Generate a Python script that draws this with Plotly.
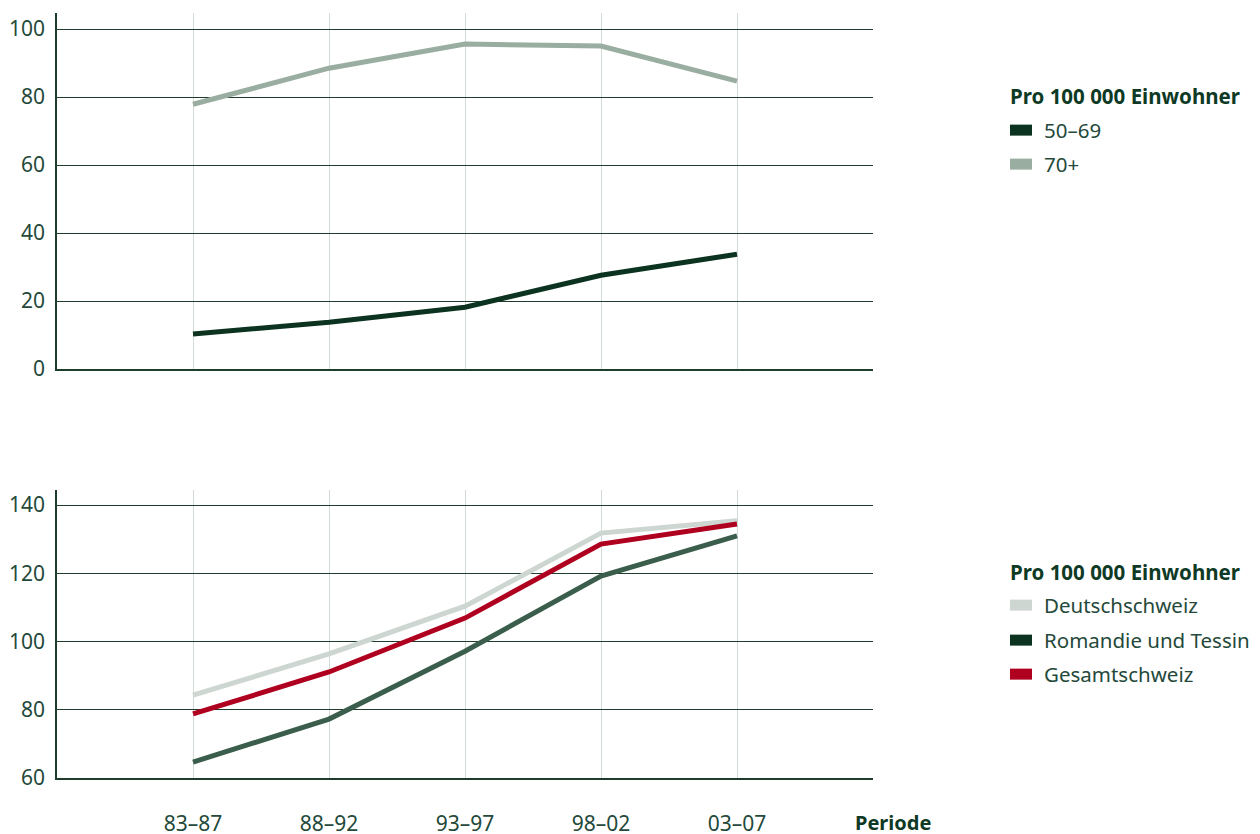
import plotly.graph_objects as go

periods = ["83–87", "88–92", "93–97", "98–02", "03–07"]

top_names = ["50–69", "70+"]
age_50_69 = [10.3, 13.8, 18.2, 27.6, 33.8]
age_70 = [77.9, 88.5, 95.6, 95.0, 84.7]

bottom_names = ["Deutschschweiz", "Romandie und Tessin", "Gesamtschweiz"]
deutschschweiz = [84.3, 96.4, 110.4, 131.8, 135.4]
romandie = [64.7, 77.3, 97.2, 119.2, 131.0]
gesamtschweiz = [78.8, 91.1, 106.9, 128.6, 134.5]

legend_title = "Pro 100 000 Einwohner"
x_title = "Periode"

# page body has an 8px margin; the photographed page is slightly taller than the picture
OFF = 8
YS = 0.9845
W = 1260 - 2 * OFF
H = int(round(834 / YS)) - OFF
FONT = "Noto Sans"
TXT = "#24493a"
DARK = "#0b3320"
GRID = "#1f3d2d"
VGRID = "#d3dbd7"

def px(x):
    return (x - OFF) / W

def py(y):
    return 1 - (y / YS - OFF) / H

fig = go.Figure()

# top chart
fig.add_trace(go.Scatter(x=periods, y=age_50_69, mode="lines", line=dict(color=DARK, width=5),
                         xaxis="x", yaxis="y", showlegend=False, name=top_names[0]))
fig.add_trace(go.Scatter(x=periods, y=age_70, mode="lines", line=dict(color="#9aada1", width=5),
                         xaxis="x", yaxis="y", showlegend=False, name=top_names[1]))
# bottom chart
fig.add_trace(go.Scatter(x=periods, y=deutschschweiz, mode="lines", line=dict(color="#cdd6d0", width=5),
                         xaxis="x2", yaxis="y2", showlegend=False, name=bottom_names[0]))
fig.add_trace(go.Scatter(x=periods, y=romandie, mode="lines", line=dict(color="#3a5e4b", width=5),
                         xaxis="x2", yaxis="y2", showlegend=False, name=bottom_names[1]))
fig.add_trace(go.Scatter(x=periods, y=gesamtschweiz, mode="lines", line=dict(color="#b0001f", width=5),
                         xaxis="x2", yaxis="y2", showlegend=False, name=bottom_names[2]))

xdom = [px(57), px(873)]
common_x = dict(type="category", categoryorder="array", categoryarray=periods, range=[-1, 5],
                showgrid=True, gridcolor=VGRID, gridwidth=1, showline=True, linecolor=GRID,
                linewidth=1.5, ticks="", zeroline=False, fixedrange=True)
common_y = dict(showgrid=True, gridcolor=GRID, gridwidth=1, showline=True, linecolor=GRID,
                linewidth=1.5, ticks="", zeroline=False, dtick=20,
                tickfont=dict(family=FONT, size=21, color=TXT), ticklabelstandoff=6)

fig.update_layout(
    width=W, height=H,
    margin=dict(l=0, r=0, t=0, b=0),
    paper_bgcolor="white", plot_bgcolor="white",
    font=dict(family=FONT, color=TXT),
    xaxis=dict(domain=xdom, anchor="y", showticklabels=False, **common_x),
    yaxis=dict(domain=[py(369), py(13)], range=[0, 104.7], anchor="x", tick0=0, **common_y),
    xaxis2=dict(domain=xdom, anchor="y2", showticklabels=True,
                tickfont=dict(family=FONT, size=21, color=TXT), ticklabelstandoff=26, **common_x),
    yaxis2=dict(domain=[py(778), py(490)], range=[60, 144.4], anchor="x2", tick0=60, **common_y),
    showlegend=False,
)

shapes = []
annotations = []

def legend_block(title_y, items):
    annotations.append(dict(x=px(1008), y=py(title_y), xref="paper", yref="paper", text="<b>%s</b>" % legend_title,
                            showarrow=False, xanchor="left", yanchor="middle",
                            font=dict(family=FONT, size=20.5, color="#0e3a25")))
    for label, color, yc in items:
        shapes.append(dict(type="rect", xref="paper", yref="paper", x0=px(1010), x1=px(1032),
                           y0=py(yc - 5.5), y1=py(yc + 5.5), fillcolor=color, line=dict(width=0)))
        annotations.append(dict(x=px(1042), y=py(yc), xref="paper", yref="paper", text=label,
                                showarrow=False, xanchor="left", yanchor="middle",
                                font=dict(family=FONT, size=20.5, color=TXT)))

legend_block(96, [(top_names[0], DARK, 130), (top_names[1], "#9aada1", 164)])
legend_block(572, [(bottom_names[0], "#cdd6d0", 605), (bottom_names[1], DARK, 640),
                   (bottom_names[2], "#b0001f", 674)])

annotations.append(dict(x=px(893), y=py(822), xref="paper", yref="paper", text="<b>%s</b>" % x_title,
                        showarrow=False, xanchor="center", yanchor="middle",
                        font=dict(family=FONT, size=20, color="#0e3a25")))

fig.update_layout(shapes=shapes, annotations=annotations)

fig.write_html("out.html")
